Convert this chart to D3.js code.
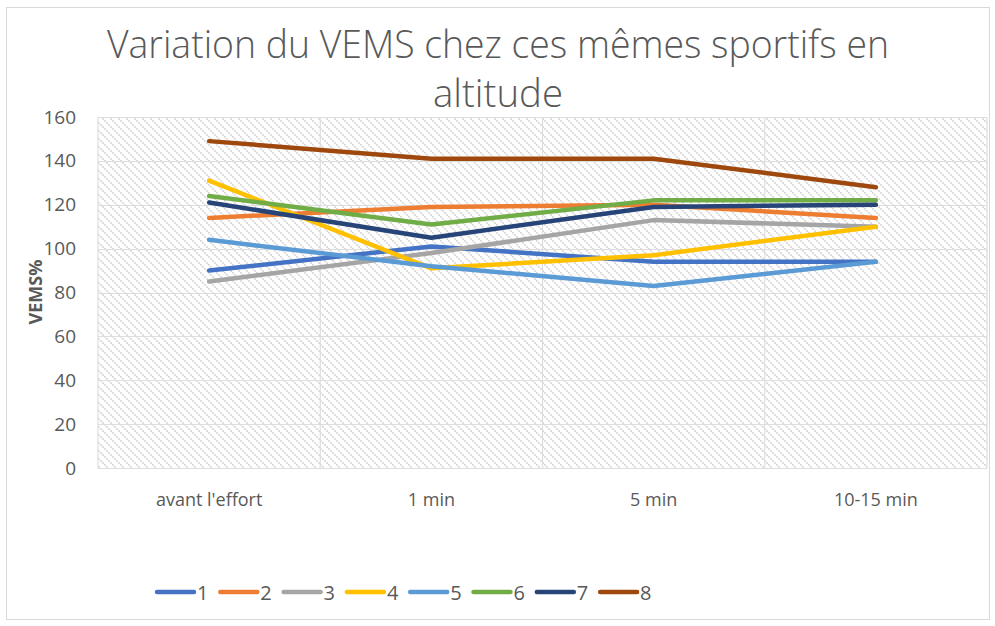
<!DOCTYPE html>
<html>
<head>
<meta charset="utf-8">
<script src="https://cdn.jsdelivr.net/npm/d3@7"></script>
<style>
  body { margin: 0; background: #fff; }
  text { font-family: "Open Sans", "Liberation Sans", sans-serif; fill: #595959; }
</style>
</head>
<body>
<div id="chart"></div>
<script>
var categories = ["avant l'effort", "1 min", "5 min", "10-15 min"];
var seriesNames = ["1", "2", "3", "4", "5", "6", "7", "8"];
var s1 = [90, 101, 94, 94];
var s2 = [114, 119, 120, 114];
var s3 = [85, 98, 113, 110];
var s4 = [131, 91, 97, 110];
var s5 = [104, 92, 83, 94];
var s6 = [124, 111, 122, 122];
var s7 = [121, 105, 119, 120];
var s8 = [149, 141, 141, 128];
var yTicks = [0, 20, 40, 60, 80, 100, 120, 140, 160];

var allSeries = [s1, s2, s3, s4, s5, s6, s7, s8];
var colors = ["#4472C4", "#ED7D31", "#A5A5A5", "#FFC000", "#5B9BD5", "#70AD47", "#264478", "#9E480E"];

var W = 995, H = 626;
var pLeft = 98, pRight = 987, pTop = 117, pBottom = 468;

var svg = d3.select("#chart")
    .append("svg")
    .attr("width", W)
    .attr("height", H);

// chart frame
svg.append("rect")
    .attr("x", 6.5).attr("y", 7.5)
    .attr("width", 983).attr("height", 612)
    .attr("fill", "#fff")
    .attr("stroke", "#d9d9d9");

var defs = svg.append("defs");
var pat = defs.append("pattern")
    .attr("id", "hatch")
    .attr("patternUnits", "userSpaceOnUse")
    .attr("width", 8).attr("height", 8);
pat.append("path")
    .attr("d", "M0,0 L8,8 M-4,4 L4,12 M4,-4 L12,4")
    .attr("stroke", "#d3d3d3")
    .attr("stroke-width", 1.6)
    .attr("stroke-dasharray", "2,1");

var x = d3.scaleBand().domain(categories).range([pLeft, pRight]);
var y = d3.scaleLinear().domain([0, 160]).range([pBottom, pTop]);

svg.append("rect")
    .attr("x", pLeft).attr("y", pTop)
    .attr("width", pRight - pLeft).attr("height", pBottom - pTop)
    .attr("fill", "url(#hatch)");

// grid
svg.append("g").selectAll("line")
    .data(yTicks)
    .enter().append("line")
    .attr("x1", pLeft).attr("x2", pRight)
    .attr("y1", function(d) { return Math.round(y(d)) + 0.5; })
    .attr("y2", function(d) { return Math.round(y(d)) + 0.5; })
    .attr("stroke", "#dedede")
    .attr("stroke-width", 1.2);

svg.append("g").selectAll("line")
    .data(categories.concat(["__end"]))
    .enter().append("line")
    .attr("x1", function(d, i) { return pLeft + i * x.bandwidth(); })
    .attr("x2", function(d, i) { return pLeft + i * x.bandwidth(); })
    .attr("y1", pTop).attr("y2", pBottom)
    .attr("stroke", "#dedede")
    .attr("stroke-width", 1.2);

// axes
var yAxis = svg.append("g")
    .attr("transform", "translate(" + (pLeft - 22) + ",0)")
    .call(d3.axisLeft(y).tickValues(yTicks).tickSize(0).tickPadding(0));
yAxis.select(".domain").remove();
yAxis.selectAll("text")
    .style("font-size", "19px")
    .style("fill", "#595959")
    .style("font-family", "'Open Sans', sans-serif");

var xAxis = svg.append("g")
    .attr("transform", "translate(0," + (pBottom + 20) + ")")
    .call(d3.axisBottom(x).tickSize(0).tickPadding(0));
xAxis.select(".domain").remove();
xAxis.selectAll("text")
    .attr("dy", "1em")
    .style("font-size", "18px")
    .style("fill", "#595959")
    .style("font-family", "'Open Sans', sans-serif");

svg.append("text")
    .attr("transform", "translate(42,292) rotate(-90)")
    .attr("text-anchor", "middle")
    .style("font-size", "18px")
    .style("font-weight", "bold")
    .text("VEMS%");

// title
svg.append("text")
    .attr("x", 498).attr("y", 58)
    .attr("text-anchor", "middle")
    .attr("textLength", 782)
    .attr("lengthAdjust", "spacingAndGlyphs")
    .style("font-size", "38px")
    .style("font-weight", 300)
    .text("Variation du VEMS chez ces mêmes sportifs en");
svg.append("text")
    .attr("x", 498).attr("y", 107)
    .attr("text-anchor", "middle")
    .attr("textLength", 130)
    .attr("lengthAdjust", "spacingAndGlyphs")
    .style("font-size", "38px")
    .style("font-weight", 300)
    .text("altitude");

// lines
var line = d3.line()
    .x(function(d, i) { return x(categories[i]) + x.bandwidth() / 2; })
    .y(function(d) { return y(d); });

svg.append("g").selectAll("path")
    .data(allSeries)
    .enter().append("path")
    .attr("d", line)
    .attr("fill", "none")
    .attr("stroke", function(d, i) { return colors[i]; })
    .attr("stroke-width", 4.5)
    .attr("stroke-linecap", "round")
    .attr("stroke-linejoin", "round");

// legend
var legend = svg.append("g").selectAll("g")
    .data(seriesNames)
    .enter().append("g")
    .attr("transform", function(d, i) { return "translate(" + (157 + i * 63.3) + ",592)"; });
legend.append("line")
    .attr("x1", 0).attr("x2", 37)
    .attr("stroke", function(d, i) { return colors[i]; })
    .attr("stroke-width", 4.5)
    .attr("stroke-linecap", "round");
legend.append("text")
    .attr("x", 40).attr("y", 7.5)
    .style("font-size", "20px")
    .text(function(d) { return d; });
</script>
</body>
</html>
